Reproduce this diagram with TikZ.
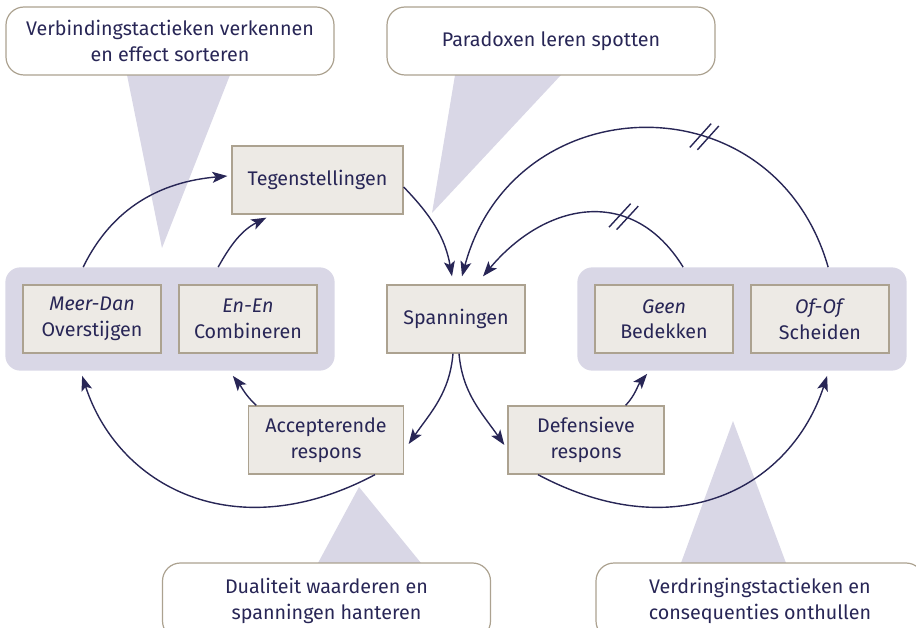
\documentclass[tikz,border=0pt]{standalone}
\usepackage{fontspec}
\setmainfont{Fira Sans}
\usepackage{tikz}
\usetikzlibrary{positioning,fit,backgrounds,arrows.meta,decorations.markings}

\definecolor{navy}{RGB}{40,38,86}
\definecolor{boxfill}{RGB}{237,234,229}
\definecolor{boxline}{RGB}{172,162,144}
\definecolor{lavender}{RGB}{217,215,230}

\tikzset{
    box/.style={rectangle, draw=boxline, fill=boxfill, line width=1.3pt, minimum width=138pt, minimum height=68pt, align=center, text=navy, font=\fontsize{19.7}{25.5}\selectfont},
    group/.style={rectangle, fill=lavender, rounded corners=15pt, inner sep=17pt},
    callout/.style={rectangle, draw=boxline, fill=white, line width=1.2pt, rounded corners=18pt, minimum width=328pt, minimum height=68pt, align=center, text=navy, font=\fontsize{19.7}{25.7}\selectfont},
    pointer/.style={fill=lavender},
    arr/.style={draw=navy, line width=1.4pt, -{Stealth[length=15pt,width=11pt,inset=3.5pt]}},
    brk/.style={postaction={decorate}, decoration={markings, mark=at position #1 with {
        \draw[-, navy, line width=1.4pt] (-4pt,0) ++(245:16pt) -- ++(65:32pt);
        \draw[-, navy, line width=1.4pt] (4pt,0) ++(245:16pt) -- ++(65:32pt);}}}
}

\begin{document}
\begin{tikzpicture}[x=1pt, y=1pt]
    \useasboundingbox (0,0) rectangle (916,-628);

    % pointers of the callouts
    \fill[pointer] (127,-75) -- (162,-248) -- (230,-75) -- cycle;
    \fill[pointer] (455,-75) -- (432,-213) -- (561,-75) -- cycle;
    \fill[pointer] (318,-563) -- (359,-487) -- (421,-563) -- cycle;
    \fill[pointer] (681,-563) -- (733,-421) -- (786,-563) -- cycle;

    \node[callout] (verbind) at (170,-41) {Verbindingstactieken verkennen\\en effect sorteren};
    \node[callout] (paradox) at (551,-41) {Paradoxen leren spotten};
    \node[callout, minimum height=76pt] (dualiteit) at (326.5,-601) {Dualiteit waarderen en\\spanningen hanteren};
    \node[callout, minimum height=76pt] (verdring) at (760,-601) {Verdringingstactieken en\\consequenties onthullen};

    \node[box, minimum width=171pt] (teg) at (317.5,-180) {Tegenstellingen};
    \node[box] (meer) at (92,-319) {\textit{Meer-Dan}\\Overstijgen};
    \node[box] (enen) at (248,-319) {\textit{En-En}\\Combineren};
    \node[box] (span) at (456,-319) {Spanningen};
    \node[box] (geen) at (664,-319) {\textit{Geen}\\Bedekken};
    \node[box] (ofof) at (820,-319) {\textit{Of-Of}\\Scheiden};
    \node[box, minimum width=155pt] (acc) at (326,-440) {Accepterende\\respons};
    \node[box, minimum width=156pt] (def) at (586,-440) {Defensieve\\respons};

    \begin{scope}[on background layer]
        \node[group, fit=(meer)(enen)] (accgrp) {};
        \node[group, fit=(geen)(ofof)] (defgrp) {};
    \end{scope}

    \draw[arr] ([xshift=78pt]accgrp.north west) to[out=64,in=185] ([xshift=-4pt,yshift=4pt]teg.west);
    \draw[arr] ([xshift=213pt]accgrp.north west) to[out=61,in=207] ([xshift=35pt,yshift=-3pt]teg.south west);
    \draw[arr] ([yshift=-7pt]teg.east) to[out=-46,in=100] ([xshift=-4pt,yshift=8pt]span.north);
    \draw[arr, brk=0.375] ([xshift=251pt]defgrp.north west) .. controls +(106:198pt) and +(75:198pt) .. ([xshift=6pt,yshift=8pt]span.north);
    \draw[arr, brk=0.33] ([xshift=106pt]defgrp.north west) .. controls +(121.6:97pt) and +(50:97pt) .. ([xshift=27pt,yshift=8pt]span.north);

    \draw[arr] ([xshift=-3pt]span.south) to[out=-95,in=55] ([xshift=4.5pt,yshift=-4pt]acc.east);
    \draw[arr] ([xshift=3pt]span.south) to[out=-85,in=125] ([xshift=-3pt,yshift=-5pt]def.west);
    \draw[arr] ([xshift=8.5pt]acc.north west) to[out=138,in=-52] ([xshift=-102pt,yshift=-5pt]accgrp.south east);
    \draw[arr] ([xshift=49pt]acc.south) .. controls +(208:160pt) and +(-72:115pt) .. ([xshift=77pt,yshift=-5pt]accgrp.south west);
    \draw[arr] ([xshift=-39pt]def.north east) to[out=47,in=-130] ([xshift=70pt,yshift=-3pt]defgrp.south west);
    \draw[arr] ([xshift=-48pt]def.south) .. controls +(-28:160pt) and +(252:115pt) .. ([xshift=250pt,yshift=-5pt]defgrp.south west);
\end{tikzpicture}
\end{document}
